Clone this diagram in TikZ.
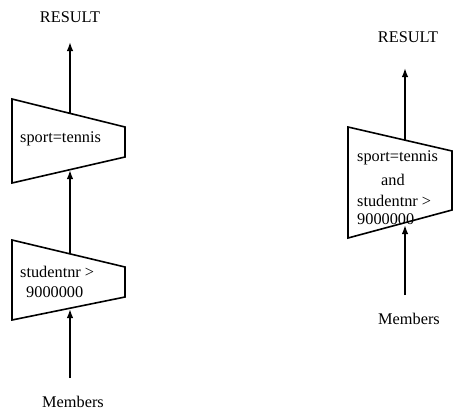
\documentclass[tikz,border=0pt]{standalone}
\usepackage{fontspec}
\setmainfont{Liberation Serif}
\usetikzlibrary{arrows.meta}
\begin{document}
\begin{tikzpicture}[x=1pt,y=-1pt,
  trap/.style={draw, line width=1.6pt, line join=miter},
  flow/.style={draw, line width=1.6pt, -{Latex[length=9pt,width=6.5pt]}},
  lbl/.style={inner sep=0pt, font=\fontsize{16.3}{19}\selectfont},
]
\useasboundingbox (0,0) rectangle (454,410);
% ---------- left plan ----------
\node[lbl] (res1) at (70,17) {RESULT};
\node[lbl] (mem1) at (73,402) {Members};
\path[trap] (12,99) -- (125,127) -- (125,157) -- (12,183) -- cycle;
\path[trap] (12,240) -- (125,267) -- (125,297) -- (12,320) -- cycle;
\node[lbl, anchor=west] (s1) at (20,139) {sport=tennis};
\node[lbl, anchor=west] (n1) at (20,272) {studentnr >};
\node[lbl, anchor=west] (v1) at (26,292) {9000000};
\coordinate (r1tip) at (70,42);
\coordinate (t1top) at (70,113);
\coordinate (t1bot) at (70,170);
\coordinate (t2top) at (70,254);
\coordinate (t2bot) at (70,309);
\coordinate (m1top) at (70,378);
\draw[flow] (t1top) -- (r1tip);
\draw[flow] (t2top) -- (t1bot);
\draw[flow] (m1top) -- (t2bot);
% ---------- right plan ----------
\node[lbl] (res2) at (408,37) {RESULT};
\node[lbl] (mem2) at (409,319) {Members};
\path[trap] (348,127) -- (452,151) -- (452,210) -- (348,238) -- cycle;
\node[lbl, anchor=west] (s2) at (357,158) {sport=tennis};
\node[lbl] (a2) at (393,180) {and};
\node[lbl, anchor=west] (n2) at (357,201) {studentnr >};
\node[lbl, anchor=west] (v2) at (357,219) {9000000};
\coordinate (r2tip) at (405,68);
\coordinate (t3top) at (405,140);
\coordinate (t3bot) at (405,225);
\coordinate (m2top) at (405,295);
\draw[flow] (t3top) -- (r2tip);
\draw[flow] (m2top) -- (t3bot);
\end{tikzpicture}
\end{document}
